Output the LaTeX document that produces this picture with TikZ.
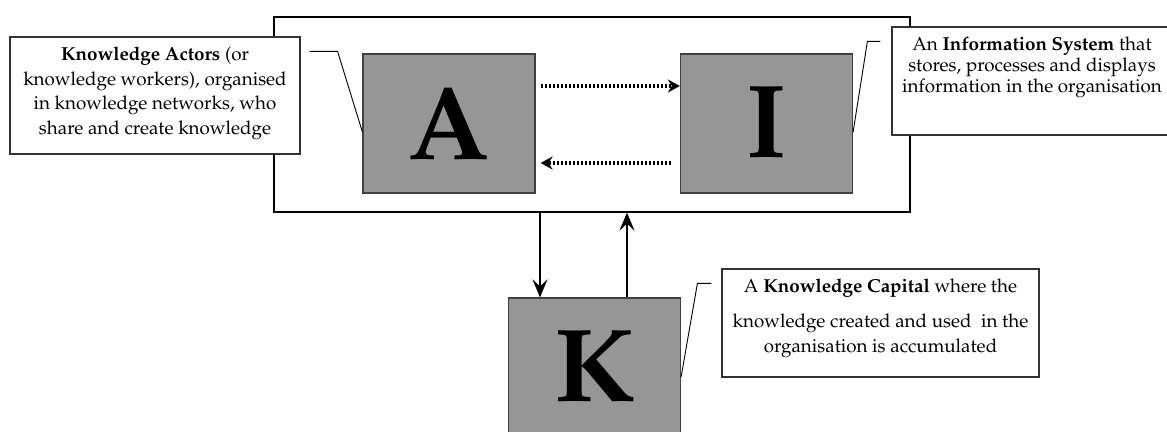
\documentclass[tikz,border=0pt]{standalone}
\usepackage[T1]{fontenc}
\usepackage{mathpazo}
\usetikzlibrary{arrows.meta, positioning}
\definecolor{boxgray}{RGB}{150,150,150}
\newcommand{\NoteText}[3]{\parbox[t][#2][t]{#1}{\centering\vspace*{5pt}#3}}
\tikzset{
    letterbox/.style={draw=black!75, fill=boxgray, line width=0.6pt, minimum width=86pt, minimum height=69.5pt, inner sep=0pt, font=\fontsize{52}{52}\selectfont\bfseries},
    note/.style={draw=black!80, fill=white, line width=0.6pt, inner sep=0pt, font=\fontsize{9.4}{12.25}\selectfont},
    pointer/.style={line width=0.45pt},
    flow/.style={line width=1.2pt, -{Stealth[length=9pt, width=7.5pt, inset=3.5pt]}},
    dotflow/.style={line width=1.6pt, dash pattern=on 1.1pt off 0.9pt, -{Stealth[length=6pt, width=6.5pt, inset=2pt]}},
}
\begin{document}
\begin{tikzpicture}[x=0.5pt, y=-0.5pt]
    \useasboundingbox (0,0) rectangle (1167,432);

    \node[draw, line width=0.6pt, minimum width=318pt, minimum height=97.5pt] (sys) at (592,114.5) {};
    \node[letterbox] (a) at (449,123.5) {A};
    \node[letterbox] (i) at (766.5,123.5) {I};
    \node[letterbox] (k) at (594.5,367.5) {K};

    \node[note] (na) at (155,95.5) {\NoteText{145pt}{58.5pt}{\textbf{Knowledge Actors} (or\\ knowledge workers), organised\\ in knowledge networks, who\\ share and create knowledge}};
    \node[note, font=\fontsize{9.4}{10.5}\selectfont] (ni) at (1032,81) {\NoteText{140pt}{54pt}{An \textbf{Information System} that\\ stores, processes and displays\\ information in the organisation}};
    \node[note, font=\fontsize{9.4}{12.5}\selectfont] (nk) at (880.5,323) {\NoteText{158.5pt}{54pt}{A \textbf{Knowledge Capital} where the\\[5pt] knowledge created and used\ \ in the\\ organisation is accumulated}};

    \draw[dotflow, shorten <=2.5pt] ([yshift=18.75pt]a.east) -- ([yshift=18.75pt]i.west);
    \draw[dotflow, shorten <=4.5pt, shorten >=2.5pt] ([yshift=-19.75pt]i.west) -- ([yshift=-19.75pt]a.east);
    \draw[flow] ([xshift=-27.25pt]k.north |- sys.south) -- ([xshift=-27.25pt]k.north);
    \draw[flow] ([xshift=16.25pt]k.north) -- ([xshift=16.25pt]k.north |- sys.south);

    \draw[pointer] ([shift={(4.5pt,-7.5pt)}]na.north east) -- ++(14pt,0) -- ([yshift=-4.25pt]a.west);
    \draw[pointer] ([shift={(-5.5pt,-7.5pt)}]ni.north west) -- ++(-6.5pt,0) -- ([yshift=-4.25pt]i.east);
    \draw[pointer] ([shift={(-5pt,-7.5pt)}]nk.north west) -- ++(-7pt,0) -- ([yshift=-4.75pt]k.east);
\end{tikzpicture}
\end{document}
